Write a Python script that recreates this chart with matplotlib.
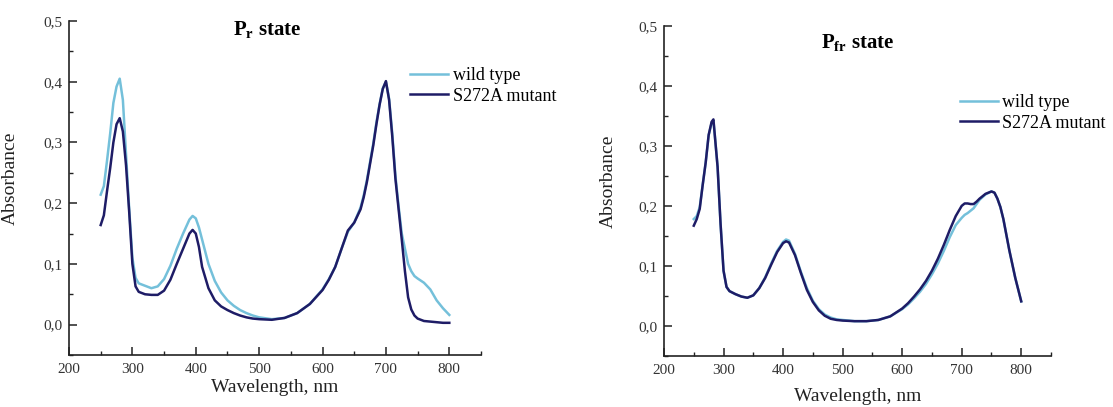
import matplotlib
matplotlib.use("Agg")
import matplotlib.pyplot as plt
from matplotlib.ticker import MultipleLocator, FuncFormatter

plt.rcParams['font.family'] = ['Liberation Serif', 'DejaVu Serif']
plt.rcParams['mathtext.fontset'] = 'custom'
plt.rcParams['mathtext.rm'] = 'Liberation Serif'
plt.rcParams['mathtext.bf'] = 'Liberation Serif:bold'

# ---------------- data ----------------
wl_pr = [250, 255, 260, 265, 270, 275, 280, 285, 290, 295, 300, 305, 310, 320, 330, 340,
         350, 360, 370, 380, 390, 395, 400, 405, 410, 420, 430, 440, 450, 460, 470, 480,
         490, 500, 520, 540, 560, 580, 600, 610, 620, 630, 640, 650, 660, 665, 670, 675,
         680, 685, 690, 695, 700, 705, 710, 715, 720, 725, 730, 735, 740, 745, 750, 760,
         770, 780, 790, 800]
pr_wild = [0.214, 0.228, 0.270, 0.315, 0.365, 0.392, 0.405, 0.370, 0.280, 0.190, 0.110, 0.077,
           0.068, 0.064, 0.060, 0.063, 0.075, 0.097, 0.125, 0.150, 0.173, 0.179, 0.175, 0.160,
           0.140, 0.100, 0.072, 0.053, 0.040, 0.031, 0.024, 0.019, 0.015, 0.012, 0.009, 0.011,
           0.019, 0.034, 0.058, 0.075, 0.095, 0.125, 0.153, 0.168, 0.193, 0.213, 0.238, 0.268,
           0.298, 0.333, 0.363, 0.389, 0.400, 0.372, 0.315, 0.245, 0.195, 0.150, 0.125, 0.100,
           0.088, 0.080, 0.076, 0.069, 0.058, 0.040, 0.027, 0.016]
pr_mut = [0.164, 0.180, 0.220, 0.258, 0.300, 0.330, 0.340, 0.318, 0.262, 0.185, 0.100, 0.063,
          0.054, 0.050, 0.049, 0.049, 0.056, 0.074, 0.100, 0.125, 0.150, 0.156, 0.150, 0.128,
          0.095, 0.060, 0.040, 0.030, 0.024, 0.019, 0.015, 0.012, 0.010, 0.009, 0.008, 0.011,
          0.019, 0.034, 0.057, 0.074, 0.095, 0.125, 0.155, 0.168, 0.190, 0.210, 0.235, 0.265,
          0.295, 0.330, 0.362, 0.388, 0.401, 0.370, 0.310, 0.240, 0.190, 0.140, 0.088, 0.045,
          0.025, 0.015, 0.010, 0.006, 0.005, 0.004, 0.003, 0.003]

wl_pfr = [250, 255, 260, 265, 270, 275, 280, 283, 286, 290, 295, 300, 305, 310, 320, 330,
          340, 350, 360, 370, 380, 390, 400, 405, 410, 420, 430, 440, 450, 460, 470, 480,
          490, 500, 520, 540, 560, 580, 600, 610, 620, 630, 640, 650, 660, 670, 680, 690,
          700, 705, 710, 715, 720, 725, 730, 740, 750, 755, 760, 765, 770, 775, 780, 790, 800]
pfr_wild = [0.178, 0.183, 0.198, 0.235, 0.272, 0.318, 0.338, 0.342, 0.310, 0.265, 0.170, 0.092,
            0.065, 0.058, 0.053, 0.049, 0.047, 0.051, 0.063, 0.081, 0.104, 0.125, 0.140, 0.144,
            0.142, 0.120, 0.090, 0.063, 0.042, 0.028, 0.019, 0.014, 0.011, 0.010, 0.008, 0.008,
            0.010, 0.016, 0.028, 0.036, 0.046, 0.057, 0.070, 0.086, 0.104, 0.125, 0.148, 0.168,
            0.180, 0.185, 0.188, 0.192, 0.196, 0.203, 0.210, 0.219, 0.224, 0.222, 0.212, 0.198,
            0.178, 0.152, 0.126, 0.080, 0.041]
pfr_mut = [0.167, 0.178, 0.195, 0.235, 0.272, 0.318, 0.340, 0.344, 0.310, 0.265, 0.170, 0.092,
           0.065, 0.058, 0.053, 0.049, 0.047, 0.051, 0.063, 0.080, 0.102, 0.123, 0.138, 0.141,
           0.139, 0.118, 0.088, 0.060, 0.040, 0.026, 0.017, 0.012, 0.010, 0.009, 0.008, 0.008,
           0.010, 0.016, 0.029, 0.038, 0.049, 0.061, 0.075, 0.092, 0.112, 0.135, 0.160, 0.183,
           0.200, 0.204, 0.204, 0.203, 0.203, 0.207, 0.212, 0.220, 0.224, 0.222, 0.212, 0.198,
           0.178, 0.152, 0.126, 0.080, 0.041]

labels = ["wild type", "S272A mutant"]
titles = [r"P$_{\mathbf{r}}$ state", r"P$_{\mathbf{fr}}$ state"]

c_wild = "#74c0da"
c_mut = "#1e1c66"

fig = plt.figure(figsize=(11.13, 4.07), dpi=100)
W, H = 1113, 407
def axrect(x0, x1, ytop, ybot):
    return [x0 / W, 1 - ybot / H, (x1 - x0) / W, (ybot - ytop) / H]

axL = fig.add_axes(axrect(69, 481, 21, 355))
axR = fig.add_axes(axrect(664, 1051, 25.7, 356))

comma = FuncFormatter(lambda v, p: f"{v:.1f}".replace(".", ","))

cfg = [
    (axL, wl_pr, pr_wild, pr_mut, titles[0], (0.48, 0.973), (0.828, 0.862), -0.072),
    (axR, wl_pfr, pfr_wild, pfr_mut, titles[1], (0.50, 0.948), (0.765, 0.793), -0.098),
]
for ax, wl, yw, ym, title, tpos, lpos, xly in cfg:
    ax.plot(wl, yw, color=c_wild, lw=1.8, label=labels[0])
    ax.plot(wl, ym, color=c_mut, lw=1.8, label=labels[1])
    ax.set_xlim(200, 850)
    ax.set_ylim(-0.05, 0.5)
    ax.xaxis.set_major_locator(MultipleLocator(100))
    ax.xaxis.set_minor_locator(MultipleLocator(50))
    ax.yaxis.set_major_locator(MultipleLocator(0.1))
    ax.yaxis.set_minor_locator(MultipleLocator(0.05))
    ax.yaxis.set_major_formatter(comma)
    ax.set_xticks([200, 300, 400, 500, 600, 700, 800])
    for s in ("top", "right"):
        ax.spines[s].set_visible(False)
    for s in ("left", "bottom"):
        ax.spines[s].set_linewidth(1.2)
        ax.spines[s].set_color("#222222")
    ax.tick_params(which="major", direction="in", length=6, width=1.1, color="#222222",
                   labelsize=11, labelcolor="#333333")
    ax.tick_params(which="minor", direction="in", length=3, width=1.0, color="#222222")
    ax.tick_params(axis="x", which="major", pad=6)
    ax.tick_params(axis="y", which="major", pad=5)
    ax.set_xlabel("Wavelength, nm", fontsize=14, color="#222222")
    ax.set_ylabel("Absorbance", fontsize=14, color="#222222")
    ax.xaxis.set_label_coords(0.5, xly)
    ax.yaxis.set_label_coords(-0.121, 0.53)
    ax.text(tpos[0], tpos[1], title, transform=ax.transAxes, ha="center", va="center",
            fontsize=15, fontweight="bold")
    ax.legend(loc="upper left", bbox_to_anchor=lpos, frameon=False, fontsize=13,
              borderpad=0, borderaxespad=0, handlelength=2.1, handletextpad=0.25,
              labelspacing=0.2)

fig.savefig("out.png", dpi=100)
